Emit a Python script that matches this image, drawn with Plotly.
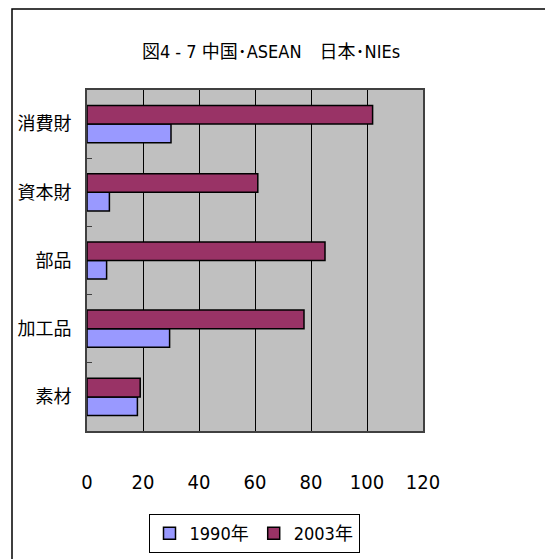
import plotly.graph_objects as go

# Categories, bottom to top on the y axis
categories = ["素材", "加工品", "部品", "資本財", "消費財"]
values_1990 = [18, 29.5, 7, 8, 30]
values_2003 = [19, 77.5, 85, 61, 102]
x_ticks = [0, 20, 40, 60, 80, 100, 120]

W, H = 545, 559
L, R, T, B = 87, 122, 90, 128
plot_w = W - L - R
plot_h = H - T - B

latin = "DejaVu Sans Condensed, Noto Sans CJK JP, sans-serif"

fig = go.Figure()
fig.add_trace(go.Bar(
    y=categories, x=values_1990, orientation="h", name="1990年",
    marker=dict(color="#9999FF", line=dict(color="black", width=1.5)),
))
fig.add_trace(go.Bar(
    y=categories, x=values_2003, orientation="h", name="2003年",
    marker=dict(color="#993366", line=dict(color="black", width=1.5)),
))

# Outer chart frame (left and top edges visible, rest runs off the page)
fig.add_shape(
    type="rect", xref="paper", yref="paper",
    x0=(12 - L) / plot_w, x1=2.0,
    y0=-1.0, y1=(H - B - 9) / plot_h,
    line=dict(color="black", width=1.5), fillcolor="rgba(0,0,0,0)",
    layer="below",
)

fig.update_layout(
    width=W, height=H,
    margin=dict(l=L, r=R, t=T, b=B, autoexpand=False),
    paper_bgcolor="white",
    plot_bgcolor="#C0C0C0",
    barmode="group",
    bargap=0.455,
    bargroupgap=0,
    font=dict(family=latin, color="black", size=20),
    title=dict(
        text="図4 - 7 中国･ASEAN　日本･NIEs",
        xref="container", yref="container",
        x=271 / W, y=1 - 52 / H, xanchor="center", yanchor="middle",
        font=dict(size=18, family=latin),
        automargin=False,
    ),
    xaxis=dict(
        range=[0, 120], tickvals=x_ticks,
        showgrid=True, gridcolor="black", gridwidth=1,
        zeroline=False, showline=True, linecolor="#404040", linewidth=2,
        mirror=True, ticks="", ticklabelstandoff=32,
        tickfont=dict(size=20, family=latin),
        automargin=False, fixedrange=True,
    ),
    yaxis=dict(
        type="category", categoryorder="array", categoryarray=categories,
        showgrid=False, showline=True, linecolor="#404040", linewidth=2,
        mirror=True, ticks="inside", tickson="boundaries", ticklen=5,
        tickcolor="#404040", ticklabelstandoff=10,
        tickfont=dict(size=18, family="Noto Sans CJK JP"),
        automargin=False, fixedrange=True,
    ),
    legend=dict(
        orientation="h", x=(254 - L) / plot_w, xanchor="center",
        y=(H - B - 514) / plot_h, yanchor="top",
        bordercolor="black", borderwidth=1, bgcolor="white",
        font=dict(size=18, family=latin),
        itemwidth=30, tracegroupgap=0,
    ),
    showlegend=True,
)

fig.write_html("out.html")
